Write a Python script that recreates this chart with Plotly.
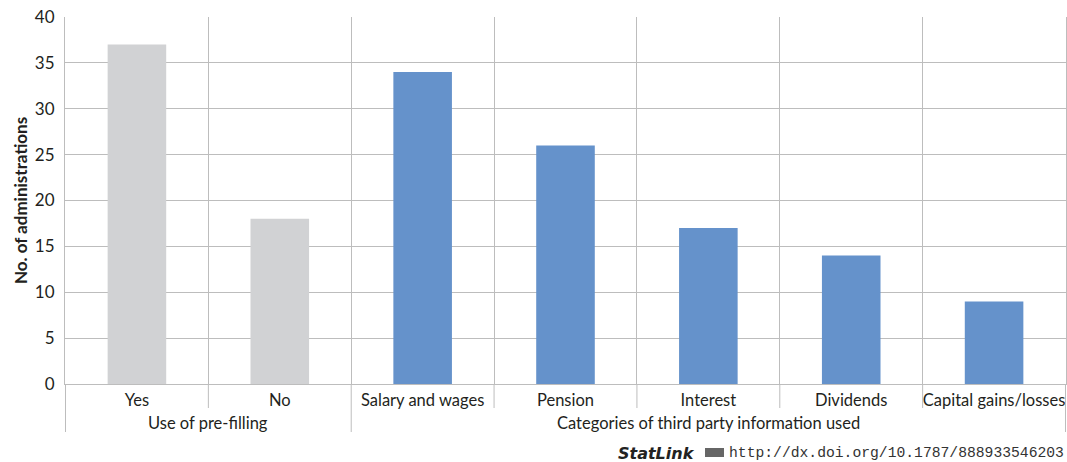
import plotly.graph_objects as go

# Data
categories = ["Yes", "No", "Salary and wages", "Pension", "Interest", "Dividends",
              "Capital gains/losses"]
values = [37, 18, 34, 26, 17, 14, 9]
bar_colors = ["#d1d2d4", "#d1d2d4", "#6592cb", "#6592cb", "#6592cb", "#6592cb", "#6592cb"]
group_labels = ["Use of pre-filling", "Categories of third party information used"]
group_sizes = [2, 5]

y_title = "No. of administrations"
statlink_url = "http://dx.doi.org/10.1787/888933546203"

GRID = "#bdbdbd"
TEXT = "#231f20"
FONT = "Lato"
LABEL_SIZE = 16.5

L, R, T, B = 65, 1, 17, 78
W, H = 1067, 462
plot_w = W - L - R
plot_h = H - T - B


def py(px_below_axis):
    """Paper y for a distance in pixels below the x axis."""
    return -px_below_axis / plot_h


def px(x_pixel):
    """Paper x for an absolute pixel column."""
    return (x_pixel - L) / plot_w


fig = go.Figure(
    go.Bar(
        x=categories,
        y=values,
        marker=dict(color=bar_colors, line=dict(width=0)),
        width=0.41,
        hoverinfo="x+y",
    )
)

fig.update_layout(
    width=W,
    height=H,
    margin=dict(l=L, r=R, t=T, b=B),
    plot_bgcolor="white",
    paper_bgcolor="white",
    showlegend=False,
    font=dict(family=FONT, size=LABEL_SIZE, color=TEXT),
)

fig.update_xaxes(
    type="category",
    tickson="boundaries",
    showgrid=True,
    gridcolor=GRID,
    gridwidth=1,
    ticks="",
    tickangle=0,
    automargin=False,
    showline=True,
    linecolor=GRID,
    linewidth=1,
    ticklabelstandoff=1,
    tickfont=dict(family=FONT, size=LABEL_SIZE, color=TEXT),
)

fig.update_yaxes(
    range=[0, 40],
    dtick=5,
    showgrid=True,
    gridcolor=GRID,
    gridwidth=1,
    zeroline=False,
    showline=True,
    mirror=True,
    linecolor=GRID,
    linewidth=1,
    ticks="",
    automargin=False,
    ticklabelstandoff=6,
    tickfont=dict(family=FONT, size=17, color=TEXT),
    title=dict(text=f"<b>{y_title}</b>", font=dict(family=FONT, size=17, color=TEXT),
               standoff=2),
)

# Category separators below the axis, and longer group dividers
n = len(categories)
group_edges = [-0.5]
for size in group_sizes:
    group_edges.append(group_edges[-1] + size)
for i in range(n + 1):
    edge = i - 0.5
    depth = 48 if edge in group_edges else 24
    fig.add_shape(
        type="line", xref="x", yref="paper",
        x0=edge, x1=edge, y0=0, y1=py(depth),
        line=dict(color=GRID, width=1),
    )

# Group labels centred under each group
for label, lo, hi in zip(group_labels, group_edges[:-1], group_edges[1:]):
    fig.add_annotation(
        text=label, xref="x", yref="paper",
        x=(lo + hi) / 2, y=py(39), xanchor="center", yanchor="middle",
        showarrow=False, font=dict(family=FONT, size=LABEL_SIZE, color=TEXT),
    )

# StatLink footer
footer_y = py(453 - 384)
fig.add_annotation(
    text="<b><i>StatLink</i></b>", xref="paper", yref="paper",
    x=px(697), y=footer_y, xanchor="right", yanchor="middle",
    showarrow=False, font=dict(family="DejaVu Sans", size=16, color="#222222"),
)
fig.add_shape(
    type="rect", xref="paper", yref="paper",
    x0=px(705), x1=px(724), y0=py(457 - 384), y1=py(448 - 384),
    fillcolor="#666666", line=dict(width=0),
)
fig.add_annotation(
    text=statlink_url, xref="paper", yref="paper",
    x=1.0, y=footer_y, xanchor="right", yanchor="middle",
    showarrow=False, font=dict(family="Liberation Mono", size=14.7, color="#333333"),
)

fig.write_html("out.html")
